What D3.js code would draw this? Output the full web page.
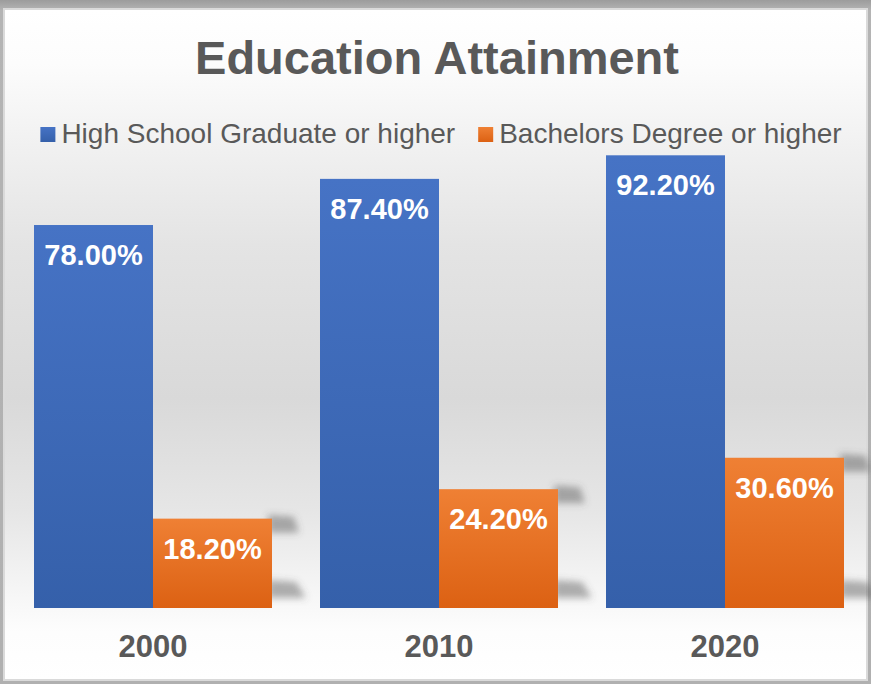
<!DOCTYPE html>
<html>
<head>
<meta charset="utf-8">
<script src="https://cdn.jsdelivr.net/npm/d3@7"></script>
<style>
  html, body { margin: 0; padding: 0; background: #a9a9a9; }
  svg { display: block; }
</style>
</head>
<body>
<svg id="chart" width="871" height="684"></svg>
<script>
const categories = ["2000", "2010", "2020"];
const seriesNames = ["High School Graduate or higher", "Bachelors Degree or higher"];
const highSchool = [78.0, 87.4, 92.2];
const bachelors = [18.2, 24.2, 30.6];
const title = "Education Attainment";

const W = 871, H = 684;
const svg = d3.select("#chart");
const defs = svg.append("defs");

const frameG = defs.append("linearGradient").attr("id", "frame").attr("x1", 0).attr("y1", 0).attr("x2", 0).attr("y2", 1);
frameG.append("stop").attr("offset", "0").attr("stop-color", "#9c9c9c");
frameG.append("stop").attr("offset", "0.015").attr("stop-color", "#b4b4b4");
frameG.append("stop").attr("offset", "1").attr("stop-color", "#b0b0b0");

const bg = defs.append("linearGradient").attr("id", "bg").attr("x1", 0).attr("y1", 0).attr("x2", 0).attr("y2", 1);
[["0", "#ffffff"], ["0.08", "#fcfcfc"], ["0.2", "#f1f1f1"], ["0.35", "#e4e4e4"], ["0.58", "#d9d9d9"],
 ["0.75", "#e6e6e6"], ["0.88", "#f7f7f7"], ["0.93", "#fdfdfd"], ["1", "#ffffff"]]
  .forEach(([o, c]) => bg.append("stop").attr("offset", o).attr("stop-color", c));

function barGrad(id, top, bottom) {
  const g = defs.append("linearGradient").attr("id", id).attr("x1", 0).attr("y1", 0).attr("x2", 0).attr("y2", 1);
  g.append("stop").attr("offset", "0").attr("stop-color", top);
  g.append("stop").attr("offset", "1").attr("stop-color", bottom);
}
barGrad("gBlue", "#4673c5", "#3560aa");
barGrad("gOrange", "#ef8034", "#dc6113");
const fills = ["url(#gBlue)", "url(#gOrange)"];

const blur = defs.append("filter").attr("id", "blur")
  .attr("filterUnits", "userSpaceOnUse").attr("x", 0).attr("y", 0).attr("width", W).attr("height", H);
blur.append("feGaussianBlur").attr("stdDeviation", 3.5);

svg.append("rect").attr("x", 0).attr("y", 0).attr("width", W).attr("height", H).attr("fill", "url(#frame)");
svg.append("rect").attr("x", 3).attr("y", 8).attr("width", 865).attr("height", 673).attr("fill", "#dadada");
svg.append("rect").attr("x", 5).attr("y", 10).attr("width", 861).attr("height", 669).attr("fill", "url(#bg)");

svg.append("text")
  .attr("x", 437).attr("y", 74)
  .attr("text-anchor", "middle")
  .attr("font-family", "'Liberation Sans', Arial, sans-serif")
  .attr("font-weight", "bold")
  .attr("font-size", 47)
  .attr("fill", "#595959")
  .text(title);

const x0 = d3.scaleBand().domain(categories).range([10, 868]).paddingInner(48 / 286).paddingOuter(24 / 286);
const x1 = d3.scaleBand().domain([0, 1]).range([0, x0.bandwidth()]).padding(0);
const y = d3.scaleLinear().domain([0, 100]).range([608, 117]);

const data = categories.map((c, i) => ({ cat: c, values: [highSchool[i], bachelors[i]] }));

// soft shadows to the right of the orange bars
const shadowG = svg.append("g").attr("filter", "url(#blur)");
data.forEach(d => {
  const xr = x0(d.cat) + x1(1) + x1.bandwidth();
  const top = y(d.values[1]);
  const bot = y(0);
  shadowG.append("path").attr("fill", "#555").attr("fill-opacity", 0.45)
    .attr("d", `M${xr - 4},${top - 4} L${xr + 22},${top - 2} L${xr + 27},${top + 14} L${xr - 4},${top + 14} Z`);
  shadowG.append("path").attr("fill", "#555").attr("fill-opacity", 0.45)
    .attr("d", `M${xr - 4},${bot - 28} L${xr + 24},${bot - 26} L${xr + 34},${bot - 10} L${xr - 4},${bot - 10} Z`);
});

const groups = svg.append("g").selectAll("g").data(data).join("g")
  .attr("transform", d => `translate(${x0(d.cat)},0)`);

groups.selectAll("rect").data(d => d.values.map((v, k) => ({ v, k }))).join("rect")
  .attr("x", d => x1(d.k))
  .attr("y", d => y(d.v))
  .attr("width", x1.bandwidth())
  .attr("height", d => y(0) - y(d.v))
  .attr("fill", d => fills[d.k]);

groups.selectAll("text.lbl").data(d => d.values.map((v, k) => ({ v, k }))).join("text")
  .attr("class", "lbl")
  .attr("x", d => x1(d.k) + x1.bandwidth() / 2)
  .attr("y", d => y(d.v) + 40)
  .attr("text-anchor", "middle")
  .attr("font-family", "'Liberation Sans', Arial, sans-serif")
  .attr("font-weight", "bold")
  .attr("font-size", 29)
  .attr("fill", "#ffffff")
  .text(d => d.v.toFixed(2) + "%");

const xAxis = d3.axisBottom(x0).tickSize(0).tickPadding(0);
const axG = svg.append("g").attr("transform", `translate(0,${y(0)})`).call(xAxis);
axG.select(".domain").remove();
axG.selectAll("text")
  .attr("y", 49).attr("dy", null)
  .attr("font-family", "'Liberation Sans', Arial, sans-serif")
  .attr("font-weight", "bold")
  .attr("font-size", 31)
  .attr("fill", "#595959");

const legend = svg.append("g");
const items = legend.selectAll("g").data(seriesNames).join("g");
items.append("rect").attr("width", 15).attr("height", 15).attr("y", -16).attr("fill", (d, i) => fills[i]);
items.append("text")
  .attr("x", 21).attr("y", 0)
  .attr("font-family", "'Liberation Sans', Arial, sans-serif")
  .attr("font-size", 28)
  .attr("fill", "#595959")
  .text(d => d);
let off = 0;
const widths = [];
items.each(function () { widths.push(this.getBBox().width); });
const gap = 23;
const total = d3.sum(widths) + gap * (widths.length - 1);
const start = 441 - total / 2;
items.attr("transform", (d, i) => {
  const t = `translate(${start + off},143)`;
  off += widths[i] + gap;
  return t;
});
</script>
</body>
</html>
